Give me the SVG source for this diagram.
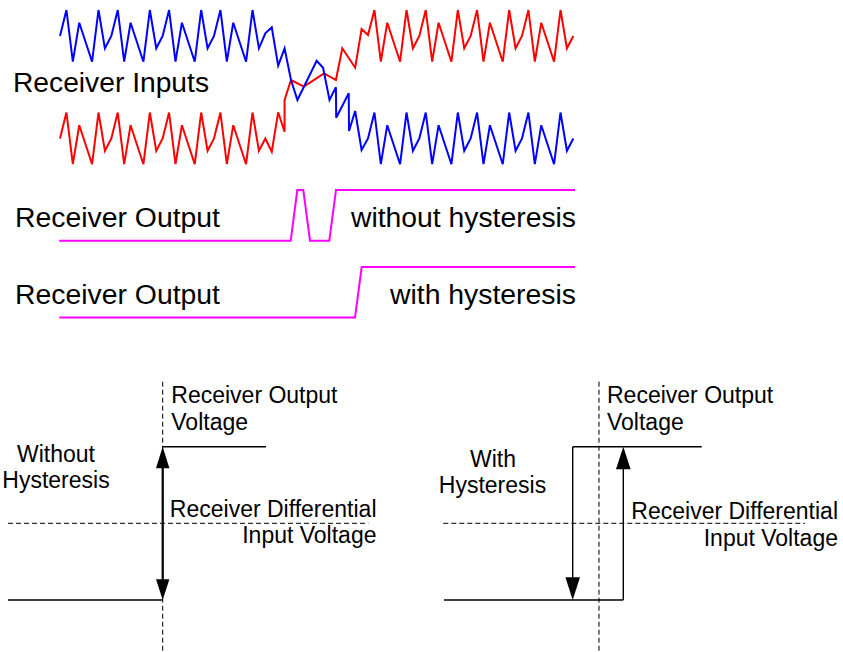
<svg xmlns="http://www.w3.org/2000/svg" width="843" height="652" viewBox="0 0 843 652">
  <style>
    .lbl { font-family: "Liberation Sans", Arial, sans-serif; fill: #000; }
    .big { font-size: 27px; }
    .small { font-size: 23px; }
    .sig { fill: none; stroke-width: 2; stroke-linejoin: miter; }
    .out { fill: none; stroke: #FF00FF; stroke-width: 2; }
    .axis { fill: none; stroke: #000; stroke-width: 1; stroke-dasharray: 5 3; }
    .curve { fill: none; stroke: #000; stroke-width: 1.4; }
    .head { fill: #000; stroke: none; }
  </style>

  <!-- Differential receiver inputs: noisy complementary pair crossing over -->
  <g id="receiver-inputs">
    <polyline class="sig" stroke="#FF0000" points="60,138.5 66.42,112.5 72.83,164.2 79.25,125.2 92.08,164.2 98.5,112.5 104.92,150.8 111.33,138.5 117.75,112.5 124.17,164.2 130.58,125.2 143.42,164.2 149.83,112.5 156.25,150.8 162.67,138.5 169.08,112.5 175.5,164.2 181.92,125.2 194.75,164.2 201.17,112.5 207.58,150.8 214,138.5 220.42,112.5 226.83,164.2 233.25,125.2 246.08,164.2 252.5,112.5 258.92,150.8 265.33,138.5 271.75,151.7 278.17,112.3 284.58,131.7 284.58,100 291,80 303.83,86.7 324,73.3 335.92,80 342.33,48.3 355.17,67.7 361.58,29 368,35 374.42,10 380.83,61.7 387.25,22.7 400.08,61.7 406.5,10 412.92,48.3 419.33,36 425.75,10 432.17,61.7 438.58,22.7 451.42,61.7 457.83,10 464.25,48.3 470.67,36 477.08,10 483.5,61.7 489.92,22.7 502.75,61.7 509.17,10 515.58,48.3 522,36 528.42,10 534.83,61.7 541.25,22.7 554.08,61.7 560.5,10 566.92,48.3 573.33,36"/>
    <polyline class="sig" stroke="#0000FF" points="60,36 66.42,10 72.83,61.7 79.25,22.7 92.08,61.7 98.5,10 104.92,48.3 111.33,36 117.75,10 124.17,61.7 130.58,22.7 143.42,61.7 149.83,10 156.25,48.3 162.67,36 169.08,10 175.5,61.7 181.92,22.7 194.75,61.7 201.17,10 207.58,48.3 214,36 220.42,10 226.83,61.7 233.25,22.7 246.08,61.7 252.5,10 258.92,48.3 265.33,33.3 271.75,27.3 278.17,65.7 284.58,48.3 291,80 297.42,100 316.67,60.7 323.08,67.7 329.5,100 335.92,87.3 336.2,117.7 348.75,93.3 349,131 355.17,111 361.58,150 368,138.5 374.42,112.5 380.83,164.2 387.25,125.2 400.08,164.2 406.5,112.5 412.92,150.8 419.33,138.5 425.75,112.5 432.17,164.2 438.58,125.2 451.42,164.2 457.83,112.5 464.25,150.8 470.67,138.5 477.08,112.5 483.5,164.2 489.92,125.2 502.75,164.2 509.17,112.5 515.58,150.8 522,138.5 528.42,112.5 534.83,164.2 541.25,125.2 554.08,164.2 560.5,112.5 566.92,150.8 573.33,138.5"/>
    <text class="lbl big" x="13" y="92.3" textLength="196" lengthAdjust="spacingAndGlyphs">Receiver Inputs</text>
  </g>

  <!-- Output without hysteresis: glitches while inputs hover near threshold -->
  <g id="output-no-hysteresis">
    <path class="out" d="M59.3,240.7 H290.7 L297.3,190 H303.3 L310,240.7 H329.3 L336,190 H575"/>
    <text class="lbl big" x="15" y="227.3" textLength="205" lengthAdjust="spacingAndGlyphs">Receiver Output</text>
    <text class="lbl big" x="576" y="227.3" text-anchor="end" textLength="225" lengthAdjust="spacingAndGlyphs">without hysteresis</text>
  </g>

  <!-- Output with hysteresis: single clean transition -->
  <g id="output-hysteresis">
    <path class="out" d="M59.3,317.5 H355 L361.7,267 H575"/>
    <text class="lbl big" x="15" y="304.3" textLength="205" lengthAdjust="spacingAndGlyphs">Receiver Output</text>
    <text class="lbl big" x="576" y="304.3" text-anchor="end" textLength="186" lengthAdjust="spacingAndGlyphs">with hysteresis</text>
  </g>

  <!-- Transfer characteristic without hysteresis -->
  <g id="transfer-no-hysteresis">
    <line class="axis" x1="162.7" y1="381.7" x2="162.7" y2="652"/>
    <line class="axis" x1="8" y1="523.3" x2="368.3" y2="523.3"/>
    <path class="curve" d="M162.7,446.7 H266 M8,600 H162.7"/>
    <text class="lbl small" x="171.3" y="403.3">Receiver Output</text>
    <text class="lbl small" x="171.3" y="430">Voltage</text>
    <text class="lbl small" x="56" y="461.7" text-anchor="middle">Without</text>
    <text class="lbl small" x="56" y="488.3" text-anchor="middle">Hysteresis</text>
    <text class="lbl small" x="376.5" y="516.7" text-anchor="end">Receiver Differential</text>
    <text class="lbl small" x="376.5" y="543.3" text-anchor="end">Input Voltage</text>
  </g>

  <!-- Transfer characteristic with hysteresis -->
  <g id="transfer-hysteresis">
    <line class="axis" x1="599" y1="381.7" x2="599" y2="652"/>
    <line class="axis" x1="443.3" y1="523.3" x2="805" y2="523.3"/>
    <path class="curve" d="M572.7,446.7 H701.7 M444,600 H623.3"/>
    <text class="lbl small" x="607" y="403.3">Receiver Output</text>
    <text class="lbl small" x="607" y="430">Voltage</text>
    <text class="lbl small" x="493" y="467.3" text-anchor="middle">With</text>
    <text class="lbl small" x="492.5" y="492.7" text-anchor="middle">Hysteresis</text>
    <text class="lbl small" x="838" y="519.3" text-anchor="end">Receiver Differential</text>
    <text class="lbl small" x="838" y="546" text-anchor="end">Input Voltage</text>
  </g>

  <!-- Switching transitions -->
  <g id="connectors">
    <line x1="162.7" y1="466" x2="162.7" y2="581" stroke="#000" stroke-width="2.2"/>
    <polygon class="head" points="162.7,446.7 156,468.3 169.4,468.3"/>
    <polygon class="head" points="162.7,600 156,579.3 169.4,579.3"/>

    <line class="curve" x1="572.7" y1="446.7" x2="572.7" y2="580"/>
    <polygon class="head" points="572.7,600 565.4,577.3 580,577.3"/>
    <line class="curve" x1="623.3" y1="600" x2="623.3" y2="467"/>
    <polygon class="head" points="623.3,446.7 616,469.3 630.6,469.3"/>
  </g>
</svg>
